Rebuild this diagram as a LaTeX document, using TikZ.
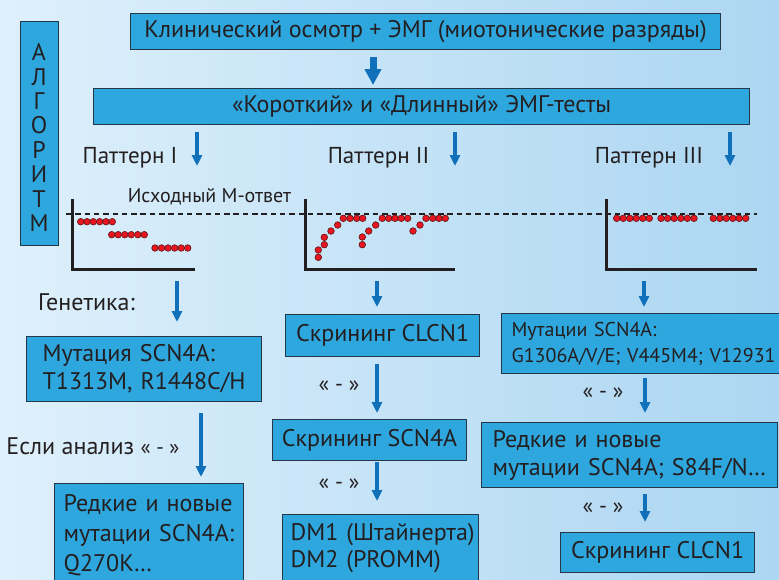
\documentclass[tikz,border=0pt]{standalone}
\usepackage{fontspec}
\setmainfont{PT Sans}
\usetikzlibrary{arrows.meta}
\definecolor{bgL}{RGB}{222,240,251}
\definecolor{bgR}{RGB}{172,214,242}
\definecolor{boxblue}{RGB}{46,166,222}
\definecolor{boxline}{RGB}{35,55,70}
\definecolor{arrblue}{RGB}{17,112,186}
\definecolor{txt}{RGB}{35,31,32}
\definecolor{dotred}{RGB}{232,22,32}
\definecolor{dotline}{RGB}{95,20,20}
\tikzset{
  box/.style={draw=boxline, line width=1.2pt, fill=boxblue, inner sep=0pt, text=txt},
  lbox/.style={box, align=left, anchor=north west},
  lbl/.style={text=txt, inner sep=0pt},
  fmain/.style={font=\fontsize{24}{28}\selectfont},
  fpat/.style={font=\fontsize{23}{28}\selectfont},
  fsmall/.style={font=\fontsize{20}{22}\selectfont},
  fmid/.style={font=\fontsize{20}{26}\selectfont},
  fneg/.style={font=\fontsize{22}{22}\selectfont},
  arr/.style={draw=arrblue, line width=4.5pt, -{Triangle[width=10pt,length=11pt]}},
  bigarr/.style={draw=arrblue, line width=7pt, -{Triangle[width=16pt,length=16pt]}},
  axis/.style={draw=txt, line width=3pt},
  base/.style={draw=txt, line width=2.8pt, dash pattern=on 5.5pt off 3.8pt},
  rdot/.style={fill=dotred, draw=dotline, line width=0.6pt}
}
\begin{document}
\begin{tikzpicture}[x=1pt,y=-1pt]
\useasboundingbox (0,0) rectangle (779,579);
\clip (0,0) rectangle (779,579);
\shade[left color=bgL, right color=bgR] (0,0) rectangle (779,579);

% header boxes
\node[box, fmain, anchor=north west, minimum width=590pt, minimum height=36pt] (b1) at (130,13) {Клинический осмотр + ЭМГ (миотонические разряды)};
\node[box, fmain, anchor=north west, minimum width=656pt, minimum height=36pt] (b2) at (93,88) {«Короткий» и «Длинный» ЭМГ-тесты};
\node[box, anchor=north west, minimum width=38pt, minimum height=224pt] (alg) at (20,21) {};
\node[lbl, align=center, font=\fontsize{24}{24.4}\selectfont] (algt) at (39,137.5) {А\\Л\\Г\\О\\Р\\И\\Т\\М};

\coordinate (a0s) at (373,57); \coordinate (a0e) at (373,85);
\draw[bigarr] (a0s) -- (a0e);

% pattern labels
\node[lbl, fpat] (p1) at (130,158) {Паттерн I};
\node[lbl, fpat] (p2) at (378.5,158) {Паттерн II};
\node[lbl, fpat] (p3) at (649,158) {Паттерн III};
\coordinate (ap1s) at (197,132); \coordinate (ap1e) at (197,166);
\coordinate (ap2s) at (455,132); \coordinate (ap2e) at (455,166);
\coordinate (ap3s) at (730,132); \coordinate (ap3e) at (730,166);
\draw[arr] (ap1s) -- (ap1e);
\draw[arr] (ap2s) -- (ap2e);
\draw[arr] (ap3s) -- (ap3e);

\node[lbl, fsmall] (ish) at (209.5,197) {Исходный М-ответ};

% baseline
\draw[base] (66,214) -- (757,214);

% axes
\draw[axis] (72.3,199) -- (72.3,269.5) -- (195,269.5);
\draw[axis] (305,199) -- (305,269.5) -- (455,269.5);
\draw[axis] (606.7,199) -- (606.7,269.5) -- (756.7,269.5);

% dots chart 1
\foreach \i in {0,...,5}{
  \filldraw[rdot] (80.7+6.32*\i,221.7) circle (3.3pt);
  \filldraw[rdot] (111.7+6.52*\i,234.7) circle (3.3pt);
  \filldraw[rdot] (155+6.54*\i,248) circle (3.3pt);
}
% dots chart 2
\foreach \x/\y in {318.3/257.3,318.3/250,324.3/244.7,324.3/237.3,331/231,337.7/225,343.3/218.3,350/218.3,356.7/218.3,362.7/218.3,
  362.3/244.7,362.3/237,368.7/231,375.7/225,382.3/218.3,388.7/218.3,395/218.3,401.3/218.3,407.7/218.3,
  413/231,420/225,426/218.3,432.7/218.3,439/218.3,445.3/218.3}{
  \filldraw[rdot] (\x,\y) circle (3.3pt);
}
% dots chart 3
\foreach \i in {0,...,5}{
  \filldraw[rdot] (616.7+6.52*\i,218.3) circle (3.3pt);
  \filldraw[rdot] (661+6.6*\i,218.3) circle (3.3pt);
  \filldraw[rdot] (713.3+6.48*\i,218.3) circle (3.3pt);
}

% column 1
\node[lbl, fmain] (gen) at (86.5,302) {Генетика:};
\coordinate (c1as) at (177,281); \coordinate (c1ae) at (177,322);
\draw[arr] (c1as) -- (c1ae);
\node[lbox, fmain, minimum height=65pt, text width=203pt, inner xsep=16pt, inner ysep=0pt] (mut1) at (26,336) {\mbox{Мутация SCN4A:}\\\mbox{T1313M, R1448C/H}};
\coordinate (c1bs) at (201,413); \coordinate (c1be) at (201,477);
\draw[arr] (c1bs) -- (c1be);
\node[lbl, fmain] (esli) at (93,446) {Если анализ {\fontsize{21}{22}\selectfont « - »}};
\node[lbox, fmain, minimum height=104pt, text width=171pt, inner xsep=9pt, inner ysep=0pt, font=\fontsize{24}{30}\selectfont] (rare1) at (54,483) {\mbox{Редкие и новые}\\\mbox{мутации SCN4A:}\\\mbox{Q270K…}};

% column 2
\coordinate (c2as) at (377,281); \coordinate (c2ae) at (377,307);
\draw[arr] (c2as) -- (c2ae);
\node[box, fmain, anchor=north west, minimum width=194pt, minimum height=42pt] (scr1) at (285,314) {Скрининг CLCN1};
\coordinate (c2bs) at (377,364); \coordinate (c2be) at (377,413);
\draw[arr] (c2bs) -- (c2be);
\node[lbl, fneg] (n1) at (339,386) {« - »};
\node[box, fmain, anchor=north west, minimum width=194pt, minimum height=41pt] (scr2) at (272,419) {Скрининг SCN4A};
\coordinate (c2cs) at (377,462); \coordinate (c2ce) at (377,501);
\draw[arr] (c2cs) -- (c2ce);
\node[lbl, fneg] (n2) at (339,484) {« - »};
\node[lbox, fmain, minimum height=66pt, text width=180pt, inner xsep=8pt, inner ysep=0pt, font=\fontsize{24}{27}\selectfont] (dm) at (282,514) {\mbox{DM1 (Штайнерта)}\\\mbox{DM2 (PROMM)}};

% column 3
\coordinate (c3as) at (644,281); \coordinate (c3ae) at (644,307);
\draw[arr] (c3as) -- (c3ae);
\node[lbox, fmid, minimum height=60pt, text width=264pt, inner xsep=10pt, inner ysep=0pt] (mut3) at (501,313) {\mbox{Мутации SCN4A:}\\\mbox{G1306A/V/E; V445M4; V12931}};
\coordinate (c3bs) at (645,378); \coordinate (c3be) at (645,413);
\draw[arr] (c3bs) -- (c3be);
\node[lbl, fneg] (n3) at (603,393) {« - »};
\node[lbox, fmain, minimum height=65pt, text width=274pt, inner xsep=11pt, inner ysep=0pt] (rare3) at (481,422) {\mbox{Редкие и новые}\\\mbox{мутации SCN4A; S84F/N…}};
\coordinate (c3cs) at (645,494); \coordinate (c3ce) at (645,522);
\draw[arr] (c3cs) -- (c3ce);
\node[lbl, fneg] (n4) at (603,508) {« - »};
\node[box, fmain, anchor=north west, minimum width=194pt, minimum height=40pt] (scr3) at (560,532) {Скрининг CLCN1};
\end{tikzpicture}
\end{document}
